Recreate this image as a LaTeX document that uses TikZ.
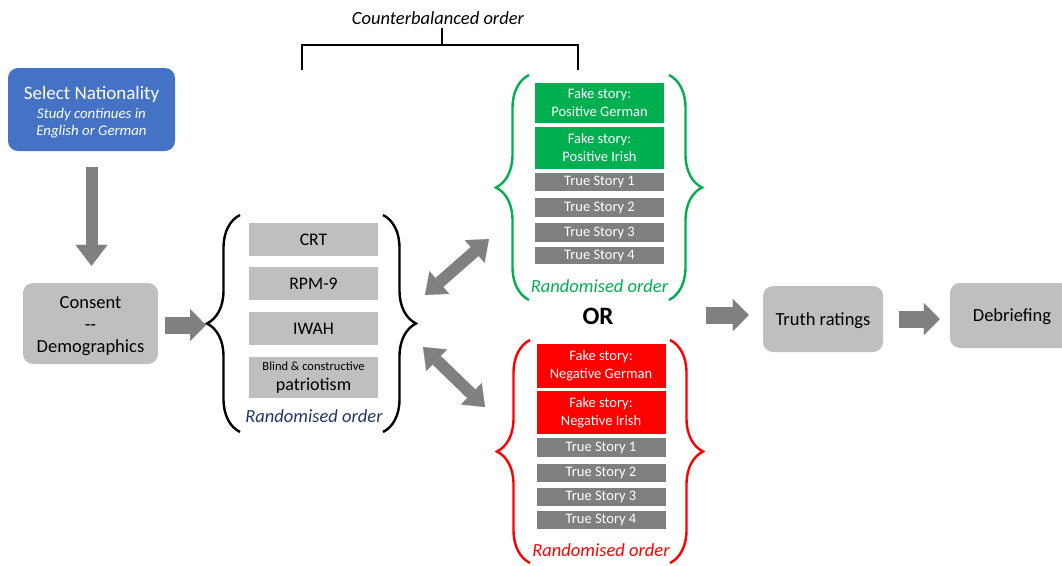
\documentclass[tikz,border=0pt]{standalone}
\usepackage{fontspec}
\setmainfont{Carlito}
\usetikzlibrary{arrows.meta,decorations.pathreplacing}

\definecolor{natblue}{HTML}{4472C4}
\definecolor{boxgrey}{HTML}{BFBFBF}
\definecolor{storygrey}{HTML}{7F7F7F}
\definecolor{arrowgrey}{HTML}{808080}
\definecolor{posgreen}{HTML}{00B050}
\definecolor{negred}{HTML}{FF0000}
\definecolor{ordernavy}{HTML}{203864}

\tikzset{
  stepbox/.style={fill=boxgrey, rounded corners=10pt, inner sep=0pt, align=center},
  measurebox/.style={fill=boxgrey, inner sep=0pt, minimum width=129pt, align=center, font=\fontsize{17.7}{20}\selectfont},
  fakebox/.style={fill=#1, text=white, inner sep=0pt, minimum width=129pt, align=center, font=\fontsize{14.5}{18}\selectfont},
  truebox/.style={fill=storygrey, text=white, inner sep=0pt, minimum width=129pt, font=\fontsize{14.5}{17}\selectfont},
  orderlabel/.style={text=#1, font=\fontsize{18.5}{20}\selectfont\itshape},
  curlybrace/.style={draw=#1, decorate, decoration={brace, amplitude=33pt}, line width=2.4pt},
  blockarrow/.style={draw=arrowgrey, line width=17pt, arrows={-Triangle[length=16pt,width=32pt,line width=0.1pt]}},
  dblarrow/.style={draw=arrowgrey, line width=12pt, arrows={Triangle[length=19pt,width=30pt,line width=0.1pt]-Triangle[length=19pt,width=30pt,line width=0.1pt]}},
}

\begin{document}
\begin{tikzpicture}[x=1pt, y=-1pt]
\useasboundingbox (0,0) rectangle (1062,565);
\clip (0,0) rectangle (1062,565);

\node[stepbox, fill=natblue, minimum width=167pt, minimum height=83pt,
  label={[yshift=-2.5pt, text=white, align=center, font=\fontsize{14.8}{17}\selectfont\itshape]center:{\fontsize{19}{21}\selectfont\upshape Select Nationality}\\[2pt]Study continues in\\English or German}] (nat) at (91.5,109.5) {};
\node[stepbox, minimum width=135pt, minimum height=81pt,
  label={[yshift=-2.5pt, align=center, font=\fontsize{18.5}{22}\selectfont]center:Consent\\-{}-\\Demographics}] (consent) at (90.5,323.5) {};

\node[measurebox, minimum height=33pt] (crt) at (313.5,239.5) {CRT};
\node[measurebox, minimum height=33pt] (rpm) at (313.5,283.5) {RPM-9};
\node[measurebox, minimum height=33pt] (iwah) at (313.5,328.5) {IWAH};
\node[measurebox, minimum height=41pt, font=\fontsize{18}{20}\selectfont] (blind) at (313.5,377.5) {{\fontsize{12.5}{15}\selectfont Blind \& constructive}\\patriotism};
\node[orderlabel=ordernavy] (midorder) at (314,416) {Randomised order};

\node[fakebox=posgreen, minimum height=40pt] (posger) at (599.5,103) {Fake story:\\Positive German};
\node[fakebox=posgreen, minimum height=42pt] (posiri) at (599.5,148) {Fake story:\\Positive Irish};
\node[truebox, minimum height=18pt] (postrue1) at (599.5,182) {True Story 1};
\node[truebox, minimum height=19pt] (postrue2) at (599.5,207.5) {True Story 2};
\node[truebox, minimum height=19pt] (postrue3) at (599.5,232.5) {True Story 3};
\node[truebox, minimum height=17pt] (postrue4) at (599.5,255.5) {True Story 4};
\node[orderlabel=posgreen] (posorder) at (599.5,286) {Randomised order};

\node[font=\fontsize{25}{28}\selectfont\bfseries] (or) at (598,316) {OR};

\node[fakebox=negred, minimum height=44pt] (negger) at (601,366) {Fake story:\\Negative German};
\node[fakebox=negred, minimum height=43pt] (negiri) at (601,412.5) {Fake story:\\Negative Irish};
\node[truebox, minimum height=19pt] (negtrue1) at (601,447.5) {True Story 1};
\node[truebox, minimum height=18pt] (negtrue2) at (601,473) {True Story 2};
\node[truebox, minimum height=18pt] (negtrue3) at (601,497) {True Story 3};
\node[truebox, minimum height=18pt] (negtrue4) at (601,520) {True Story 4};
\node[orderlabel=negred] (negorder) at (601,550) {Randomised order};

\node[stepbox, minimum width=120pt, minimum height=66pt, text depth=0pt, font=\fontsize{18.5}{20}\selectfont] (truth) at (823,319) {Truth ratings};
\node[stepbox, minimum width=124pt, minimum height=65pt, text depth=0pt, font=\fontsize{18.5}{20}\selectfont] (debrief) at (1012,315.5) {Debriefing};

\node[font=\fontsize{18.5}{20}\selectfont\itshape] (counter) at (438,18) {Counterbalanced order};
\draw[line width=2.4pt] (442,28) -- (442,45);
\draw[line width=2.4pt] (302,70) -- (302,45) -- (578,45) -- (578,70);

\draw[curlybrace=black] (240,432) -- (240,215);
\draw[curlybrace=black] (383,215) -- (383,432);
\draw[curlybrace=posgreen] (529,300) -- (529,75);
\draw[curlybrace=posgreen] (669,75) -- (669,300);
\draw[curlybrace=negred] (530,563) -- (530,340);
\draw[curlybrace=negred] (670,340) -- (670,563);

\coordinate (midtip) at (206,325);
\coordinate (orout) at (706,315);
\coordinate (upstart) at (425,295);
\coordinate (upend) at (489,239);
\coordinate (lostart) at (423,347);
\coordinate (loend) at (485,407);

\draw[blockarrow, line width=12pt, arrows={-Triangle[length=21pt,width=32pt,line width=0.1pt]}, shorten <=16pt, shorten >=17pt] (nat.south) -- (nat.south |- consent.north);
\draw[blockarrow, shorten <=7pt] (consent.east |- midtip) -- (midtip);
\draw[blockarrow, shorten >=14pt] (orout) -- (orout -| truth.west);
\draw[blockarrow, shorten <=16pt, shorten >=10pt] (truth.east) -- (truth.east -| debrief.west);
\draw[dblarrow] (upstart) -- (upend);
\draw[dblarrow] (lostart) -- (loend);
\end{tikzpicture}
\end{document}
